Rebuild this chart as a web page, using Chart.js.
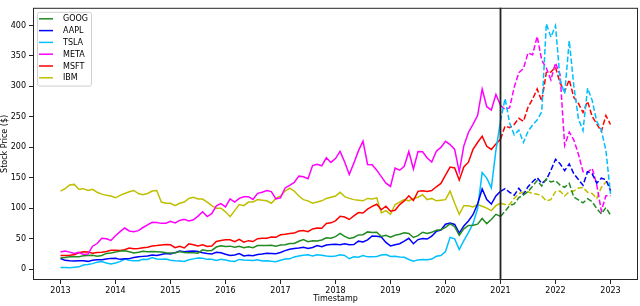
<!DOCTYPE html>
<html>
<head>
<meta charset="utf-8">
<script src="https://cdn.jsdelivr.net/npm/chart.js@4.4.1/dist/chart.umd.min.js"></script>
<style>
    html, body { margin: 0; padding: 0; background: #fff; }
</style>
</head>
<body>
<canvas id="stock-chart" width="640" height="306"></canvas>
<script>
// monthly samples, Jan 2013 .. Jan 2023 (index i -> 2013 + i/12)
const startYear = 2013;
const splitYear = 2021;

const tickers = ["GOOG", "AAPL", "TSLA", "META", "MSFT", "IBM"];
const colors = ["#228b22", "#0000ff", "#00bfff", "#ff00ff", "#ff0000", "#bfbf00"];

const goog = [
    18.1, 19.0, 20.1, 20.3, 20.3, 21.8, 22.1, 22.6, 21.2, 22.2, 25.7, 26.4,
    27.8, 29.5, 30.0, 28.4, 26.5, 27.6, 29.1, 28.3, 28.9, 28.4, 27.8, 26.7,
    26.2, 26.4, 28.6, 27.1, 26.8, 26.7, 26.1, 31.5, 29.9, 30.6, 36.1, 38.1,
    37.1, 37.6, 35.9, 37.5, 34.9, 36.7, 35.0, 38.6, 38.6, 38.6, 39.2, 37.4,
    39.3, 39.8, 41.8, 41.9, 45.6, 48.3, 44.9, 46.5, 46.1, 47.7, 51.3, 50.5,
    53.3, 58.4, 53.5, 50.1, 51.8, 56.0, 56.4, 61.0, 59.9, 60.4, 53.5, 55.3,
    52.3, 55.5, 57.0, 59.7, 58.4, 51.8, 54.9, 60.4, 58.4, 60.3, 63.7, 64.5,
    68.4, 74.2, 69.5, 55.3, 66.0, 71.6, 71.9, 73.7, 83.0, 74.5, 81.3, 89.9,
    86.4, 95.1, 104.4, 106.9, 117.2, 121.7, 126.8, 136.1, 145.2, 136.5, 148.0, 143.0,
    145.1, 137.8, 134.2, 140.8, 118.1, 113.5, 108.7, 115.5, 110.6, 99.3, 90.5, 101.0,
    88.7
];
const aapl = [
    17.2, 14.3, 13.6, 13.4, 13.8, 13.7, 12.6, 14.3, 15.4, 15.3, 16.4, 17.5,
    17.6, 15.9, 16.7, 17.1, 18.8, 20.1, 20.8, 21.4, 22.9, 22.2, 24.0, 25.6,
    24.8, 27.0, 29.4, 28.4, 29.3, 29.6, 28.8, 26.8, 25.4, 24.9, 27.6, 26.7,
    24.2, 22.4, 23.1, 25.3, 21.5, 22.7, 22.0, 24.0, 24.6, 26.0, 25.7, 25.3,
    27.3, 30.3, 32.6, 33.7, 34.4, 35.7, 33.8, 35.3, 38.5, 36.5, 39.5, 40.2,
    40.9, 39.8, 41.6, 39.8, 40.1, 45.8, 44.5, 47.9, 54.2, 54.0, 52.7, 43.8,
    37.9, 39.9, 41.6, 45.9, 50.5, 41.6, 48.4, 50.2, 49.3, 53.9, 61.8, 64.1,
    73.6, 75.7, 73.2, 59.0, 70.9, 78.9, 89.2, 106.7, 131.5, 114.2, 106.6, 120.2,
    127.5, 132.1, 125.9, 121.2, 132.7, 122.4, 135.2, 143.3, 150.2, 140.6, 146.7, 162.3,
    180.2, 172.9, 161.6, 172.6, 156.4, 147.2, 137.5, 159.9, 156.4, 141.1, 149.2, 146.8,
    129.0
];
const tsla = [
    2.4, 2.5, 2.3, 2.9, 3.6, 6.5, 7.4, 8.9, 11.3, 12.5, 10.0, 8.5,
    10.0, 12.1, 16.3, 14.3, 13.8, 13.7, 16.0, 15.8, 18.9, 16.4, 16.1, 16.3,
    14.6, 13.5, 13.1, 12.5, 15.1, 16.7, 18.0, 17.7, 15.9, 15.9, 14.2, 15.9,
    14.9, 13.1, 12.5, 15.8, 14.8, 14.5, 14.1, 15.3, 13.3, 13.5, 12.7, 12.1,
    14.4, 16.6, 16.7, 19.9, 21.5, 22.7, 23.5, 21.3, 23.4, 22.7, 21.4, 20.4,
    21.4, 23.3, 22.3, 16.9, 20.0, 19.5, 22.3, 20.0, 20.1, 20.7, 23.1, 23.9,
    20.7, 20.8, 19.7, 19.3, 15.6, 12.8, 15.0, 15.6, 15.2, 16.3, 20.9, 22.3,
    28.7, 52.0, 49.5, 32.1, 46.8, 59.9, 74.6, 99.0, 158.3, 149.3, 133.3, 194.7,
    243.0, 280.0, 239.3, 220.3, 228.0, 207.7, 226.0, 236.7, 244.7, 258.3, 403.0, 381.0,
    399.7, 310.3, 288.0, 375.0, 300.7, 246.7, 227.3, 297.0, 277.0, 242.4, 227.8, 194.7,
    123.2
];
const meta = [
    28.0, 29.7, 27.8, 25.5, 27.4, 23.9, 24.8, 37.5, 41.9, 50.4, 49.8, 47.0,
    54.7, 61.5, 67.4, 62.6, 61.2, 63.1, 68.2, 72.4, 76.7, 76.6, 75.0, 75.1,
    78.5, 75.7, 79.8, 81.7, 78.8, 80.9, 86.9, 94.0, 86.1, 90.9, 103.9, 107.5,
    102.2, 115.1, 109.8, 116.1, 118.6, 118.8, 114.2, 124.3, 126.2, 128.8, 127.2, 115.1,
    116.9, 133.2, 137.4, 142.3, 152.5, 151.5, 148.4, 169.9, 172.0, 169.5, 182.7, 175.1,
    181.4, 193.1, 175.9, 155.4, 173.9, 194.0, 210.0, 171.7, 171.2, 162.4, 151.8, 141.1,
    135.7, 165.7, 162.3, 168.7, 193.0, 164.2, 193.0, 192.7, 182.4, 175.8, 193.6, 199.7,
    209.8, 204.4, 196.4, 159.6, 202.3, 224.3, 237.6, 252.0, 295.4, 266.6, 261.1, 286.6,
    268.9, 262.0, 264.9, 298.7, 322.6, 329.1, 354.7, 352.0, 382.1, 343.0, 330.0, 310.6,
    338.5, 319.0, 203.0, 224.9, 212.0, 188.6, 160.0, 159.1, 165.4, 138.6, 95.2, 120.4,
    120.3
];
const msft = [
    22.4, 22.3, 22.7, 23.3, 26.7, 28.4, 27.9, 25.9, 27.1, 27.5, 28.8, 30.8,
    30.9, 30.3, 31.8, 34.4, 33.2, 33.9, 34.9, 35.9, 37.8, 38.5, 39.5, 40.3,
    39.8, 35.0, 37.3, 34.6, 41.4, 40.0, 37.7, 39.7, 37.0, 37.9, 45.2, 46.9,
    48.2, 48.1, 44.9, 48.9, 44.0, 46.6, 45.1, 49.8, 50.7, 50.5, 52.6, 52.1,
    56.3, 57.2, 58.4, 59.0, 62.5, 63.4, 61.4, 65.8, 67.3, 66.9, 74.9, 75.9,
    79.1, 86.8, 85.5, 81.4, 87.4, 92.7, 92.0, 98.3, 102.8, 106.4, 97.4, 103.1,
    95.0, 96.6, 105.8, 111.9, 120.3, 112.6, 127.6, 128.7, 127.5, 128.9, 135.1, 140.6,
    154.2, 167.4, 165.9, 146.0, 167.6, 175.5, 196.5, 207.8, 218.2, 201.5, 196.5, 205.5,
    213.3, 234.9, 232.2, 237.6, 247.5, 242.5, 265.5, 279.2, 295.8, 275.7, 322.8, 323.5,
    331.5, 305.2, 291.9, 310.8, 281.7, 271.9, 257.0, 275.2, 250.7, 238.3, 225.9, 252.2,
    237.4
];
const ibm = [
    128, 132, 138, 139, 131, 132, 129, 131, 126, 123, 121, 120,
    117, 121, 124, 127, 129, 124, 122, 124, 128, 129, 110, 108,
    108, 104, 108, 110, 116, 118, 115, 115, 110, 104, 100, 100,
    94, 86, 96, 106, 104, 110, 110, 114, 113, 112, 108, 116,
    120, 128, 133, 128, 120, 114, 112, 108, 110, 112, 116, 118,
    120, 126, 119, 116, 114, 113, 112, 116, 115, 117, 92, 96,
    90, 106, 110, 114, 112, 116, 118, 122, 114, 116, 112, 113,
    114, 128, 108, 90, 104, 104, 102, 106, 103, 100, 96, 104,
    108, 106, 106, 116, 124, 126, 127, 124, 123, 120, 112, 114,
    127, 128, 120, 127, 128, 133, 134, 126, 124, 116, 134, 143,
    140
];

const yearTicks = [2013, 2014, 2015, 2016, 2017, 2018, 2019, 2020, 2021, 2022, 2023];
const priceTicks = [0, 50, 100, 150, 200, 250, 300, 350, 400];

const series = [goog, aapl, tsla, meta, msft, ibm];

function toPoints(values) {
    return values.map((v, i) => ({ x: startYear + i / 12, y: v }));
}

// black vertical marker + full box frame around the plot
const framePlugin = {
    id: "frame",
    afterDatasetsDraw(chart) {
        const { ctx, chartArea: a, scales } = chart;
        const x = scales.x.getPixelForValue(splitYear);
        ctx.save();
        ctx.strokeStyle = "#222";
        ctx.lineWidth = 1.8;
        ctx.beginPath();
        ctx.moveTo(x, a.top);
        ctx.lineTo(x, a.bottom);
        ctx.stroke();
        ctx.lineWidth = 1;
        ctx.strokeStyle = "#262626";
        ctx.strokeRect(a.left + 0.5, a.top + 0.5, a.right - a.left - 1, a.bottom - a.top - 1);
        ctx.restore();
    }
};

// matplotlib-like legend box in the upper left corner
const boxLegend = {
    id: "boxLegend",
    afterDraw(chart) {
        const { ctx, chartArea: a } = chart;
        const sets = chart.data.datasets;
        const left = a.left + 4, top = a.top + 4;
        const w = 54, rowH = 11.8;
        const h = sets.length * rowH + 3;
        ctx.save();
        ctx.fillStyle = "rgba(255,255,255,0.8)";
        ctx.strokeStyle = "#d0d0d0";
        ctx.lineWidth = 1;
        ctx.beginPath();
        ctx.roundRect(left + 0.5, top + 0.5, w, h, 2);
        ctx.fill();
        ctx.stroke();
        ctx.font = "8px 'DejaVu Sans'";
        ctx.textBaseline = "middle";
        sets.forEach((ds, k) => {
            const y = top + 7 + k * rowH;
            ctx.strokeStyle = ds.borderColor;
            ctx.lineWidth = 1.5;
            ctx.beginPath();
            ctx.moveTo(left + 2, y);
            ctx.lineTo(left + 16, y);
            ctx.stroke();
            ctx.fillStyle = "#000";
            ctx.fillText(ds.label, left + 26, y + 0.5);
        });
        ctx.restore();
    }
};

Chart.defaults.font.family = "'DejaVu Sans'";
Chart.defaults.font.size = 8;
Chart.defaults.color = "#000";

const canvas = document.querySelector("#stock-chart");
new Chart(canvas, {
    type: "line",
    data: {
        datasets: tickers.map((name, k) => ({
            label: name,
            data: toPoints(series[k]),
            borderColor: colors[k],
            borderWidth: 1.5,
            pointRadius: 0,
            fill: false,
            segment: {
                borderDash: (c) => (c.p0.parsed.x >= splitYear ? [5.5, 2.4] : undefined)
            }
        }))
    },
    options: {
        responsive: false,
        animation: false,
        devicePixelRatio: 1,
        layout: { padding: { top: 1, right: 2, left: 0, bottom: 0 } },
        plugins: {
            legend: { display: false },
            tooltip: { enabled: false }
        },
        scales: {
            x: {
                type: "linear",
                min: 2012.5,
                max: 2023.5,
                afterBuildTicks: (s) => { s.ticks = yearTicks.map((v) => ({ value: v })); },
                afterFit: (s) => { s.height = 26; },
                ticks: { callback: (v) => String(v), padding: 2, maxRotation: 0, autoSkip: false },
                grid: { drawOnChartArea: false, drawTicks: true, tickLength: 4, color: "#222" },
                border: { display: false },
                title: { display: true, text: "Timestamp", padding: { top: 0, bottom: 2 } }
            },
            y: {
                min: -18,
                max: 429,
                afterBuildTicks: (s) => { s.ticks = priceTicks.map((v) => ({ value: v })); },
                afterFit: (s) => { s.width = 33; },
                ticks: { padding: 3, autoSkip: false },
                grid: { drawOnChartArea: false, drawTicks: true, tickLength: 4, color: "#222" },
                border: { display: false },
                title: { display: true, text: "Stock Price ($)", padding: { top: 0, bottom: 0 } }
            }
        }
    },
    plugins: [framePlugin, boxLegend]
});
</script>
</body>
</html>
